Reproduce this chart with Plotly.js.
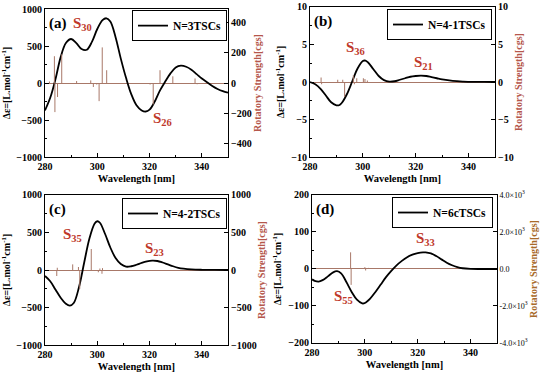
<!DOCTYPE html>
<html>
<head>
<meta charset="utf-8">
<script src="https://cdn.plot.ly/plotly-3.0.1.min.js"></script>
<style>html,body{margin:0;padding:0;background:#fff;}#chart{width:550px;height:376px;}</style>
</head>
<body>
<div id="chart"></div>
<script>
// ---------- data ----------
const seriesNames = ["N=3TSCs", "N=4-1TSCs", "N=4-2TSCs", "N=6cTSCs"];
const panelLabels = ["(a)", "(b)", "(c)", "(d)"];

// (a) CD curve
const wlA = [280,282,284,286,288,290,292,294,296,298,300,302,303.5,305,307,309,311,313,315,317,318.5,320,322,324,326,328,330,332,334,336,338,340,342,344,346,348,350];
const cdA = [-370,-200,50,350,540,595,540,460,450,560,730,850,875,830,620,330,70,-150,-300,-370,-385,-360,-250,-100,20,130,210,235,220,180,120,60,10,-40,-80,-110,-130];
const stickWlA = [281.7,283.6,283.8,284.8,286.4,292.1,297.5,298.5,299.8,300.7,301.9,303.6,320.2,321.4,324.0,328.9,337.4,338.2];
const stickRsA = [10,176,-191,-92,189,13,17,-26,-10,-119,234,84,-10,-141,84,44,30,-8];

// (b)
const wlB = [280,282,284,286,288,290,291,292,294,296,298,300,301,302,304,306,308,310,312,314,316,318,320,322,324,326,328,330,334,338,342,346,350];
const cdB = [0,-0.3,-0.9,-1.8,-2.7,-3.1,-3.1,-2.8,-1.6,0.1,1.8,2.8,2.85,2.6,1.7,0.8,0.25,0.05,0.1,0.3,0.5,0.7,0.8,0.85,0.8,0.65,0.5,0.35,0.15,0.06,0.02,0.01,0];
const stickWlB = [284.2,284.4,290.5,292.4,293.1,296.4,296.8,297.7,300.2,300.8,301.7];
const stickRsB = [0.6,-0.3,0.3,0.3,-2.0,0.9,-0.3,0.5,0.5,0.4,0.2];

// (c)
const wlC = [280,282,284,286,288,289.5,291,293,295,297,299,300,301,303,305,307,309,311,313,315,317,319,321,323,325,327,329,331,333,336,340,345,350];
const cdC = [-80,-150,-260,-370,-450,-475,-440,-230,100,420,620,650,630,480,300,160,80,45,50,70,95,115,125,120,100,75,50,30,18,8,3,1,0];
const stickWlC = [284.5,284.7,290.6,292.8,293.3,297.7,300.4,301.0,301.8,302.0];
const stickRsC = [-80,30,75,40,-250,280,-30,20,-50,25];

// (d)
const wlD = [280,281,282.5,284,286,288,289.5,291,293,295,297,299,300,302,304,306,308,310,312,314,316,318,320,322,323,325,327,329,331,333,335,337,340,345,350];
const cdD = [-28,-32,-34,-30,-20,-9,-6,-12,-35,-62,-83,-93,-92,-80,-62,-42,-22,-5,10,22,32,39,43,45,45,42,35,26,17,10,5,2,0.5,0,0];
const stickWlD = [294.6,294.8,300.0,300.3,301.4];
const stickRsD = [900,-860,100,-80,60];

// state labels: [panel, main, subscript, wavelength, value]
const stateLabels = [
  [0,"S","30",294.5,800],[0,"S","26",325.1,-480],
  [1,"S","36",297.4,4.5],[1,"S","21",323.1,2.5],
  [2,"S","35",290.7,470],[2,"S","23",321.7,280],
  [3,"S","33",322.8,81],[3,"S","55",292.1,-76]
];

const leftTicks = [[-1000,-500,0,500,1000],[-10,-5,0,5,10],[-1000,-500,0,500,1000],[-200,-100,0,100,200]];
const rightTicks = [[-400,-200,0,200,400],[-10,-5,0,5,10],[-1000,-500,0,500,1000],[-4000,-2000,0,2000,4000]];
const rightTickText = [null,null,null,["-4.0×10<sup>3</sup>","-2.0×10<sup>3</sup>","0.0","2.0×10<sup>3</sup>","4.0×10<sup>3</sup>"]];
const leftRanges = [[-1000,1000],[-10,10],[-1000,1000],[-200,200]];
const rightRanges = [[-486,486],[-10,10],[-1000,1000],[-4000,4000]];
const xTicks = [280,300,320,340];

// ---------- build ----------
const curves = [[wlA,cdA],[wlB,cdB],[wlC,cdC],[wlD,cdD]];
const sticks = [[stickWlA,stickRsA],[stickWlB,stickRsB],[stickWlC,stickRsC],[stickWlD,stickRsD]];

const FONT = "Liberation Serif";
const stickColor = "#a87868";
const labelColor = "#c0392b";
const rsTitleColors = ["#b5574b","#b5574b","#b5574b","#a86a2a"];

const domains = [
  {x:[0.0818,0.4145], y:[0.5824,0.976]},
  {x:[0.5636,0.9],    y:[0.5824,0.9814]},
  {x:[0.0818,0.4145], y:[0.0824,0.4814]},
  {x:[0.5673,0.9036], y:[0.0878,0.4814]}
];
const legendPos = [[0.4127,0.973],[0.8945,0.976],[0.4127,0.4734],[0.8964,0.476]];

const traces = [];
const layout = {
  width:550, height:376,
  margin:{l:0,r:0,t:0,b:0},
  paper_bgcolor:"#fff", plot_bgcolor:"#fff",
  font:{family:FONT, size:9, color:"#000", weight:"bold"},
  annotations:[]
};

for (let i=0;i<4;i++){
  const xn = i===0 ? "x" : "x"+(i+1);
  const yl = "y"+(i===0 ? "" : (2*i+1));
  const yr = "y"+(2*i+2);
  const xk = "xaxis"+(i===0?"":(i+1));
  const ylk = "yaxis"+(i===0?"":(2*i+1));
  const yrk = "yaxis"+(2*i+2);
  const lg = i===0 ? "legend" : "legend"+(i+1);

  // stick spectrum
  const sx=[], sy=[];
  sticks[i][0].forEach((w,k)=>{ sx.push(w,w,null); sy.push(0,sticks[i][1][k],null); });
  traces.push({type:"scatter", mode:"lines", x:sx, y:sy, xaxis:xn, yaxis:yr,
    line:{color:stickColor, width:1}, showlegend:false, hoverinfo:"skip", connectgaps:false});
  // CD curve
  traces.push({type:"scatter", mode:"lines", x:curves[i][0], y:curves[i][1], xaxis:xn, yaxis:yl,
    name:seriesNames[i], legend:lg, line:{color:"#000", width:1.8, shape:"spline", smoothing:1}});

  layout[xk] = {domain:domains[i].x, anchor: yl, range:[280,350], tickvals:xTicks,
    ticks:"inside", ticklen:4, tickcolor:"#000", showline:true, linecolor:"#000", linewidth:1, mirror:true,
    showgrid:false, zeroline:false, minor:{dtick:10, ticks:"inside", ticklen:2, tickcolor:"#000"},
    tickfont:{family:FONT, size:10, weight:"bold"},
    title:{text:"Wavelength [nm]", font:{family:FONT, size:10.5, weight:"bold"}, standoff:3}};
  layout[ylk] = {domain:domains[i].y, anchor:xn, range:leftRanges[i], tickvals:leftTicks[i],
    ticks:"inside", ticklen:4, tickcolor:"#000", showline:true, linecolor:"#000", linewidth:1,
    showgrid:false, zeroline:false,
    minor:{dtick:(leftTicks[i][1]-leftTicks[i][0])/2, ticks:"inside", ticklen:2, tickcolor:"#000"},
    tickfont:{family:FONT, size:10, weight:"bold"},
    title:{text:"Δε=[L.mol<sup>-1</sup>cm<sup>-1</sup>]", font:{family:FONT, size:10, weight:"bold"}, standoff:4}};
  const yrObj = {overlaying:yl, anchor:xn, side:"right", range:rightRanges[i], tickvals:rightTicks[i],
    ticks:"inside", ticklen:4, tickcolor:"#000", showline:true, linecolor:"#000", linewidth:1,
    showgrid:false, zeroline:true, zerolinecolor:stickColor, zerolinewidth:1,
    tickfont:{family:FONT, size: i===3 ? 8 : 10, weight: i===3 ? "normal" : "bold"},
    title:{text:"Rotatory Strength[cgs]", font:{family:FONT, size:10, weight:"bold", color:rsTitleColors[i]}, standoff:2}};
  if (rightTickText[i]) yrObj.ticktext = rightTickText[i];
  layout[yrk] = yrObj;

  layout[lg] = {x:legendPos[i][0], y:legendPos[i][1], xanchor:"right", yanchor:"top",
    xref:"paper", yref:"paper", bgcolor:"#fff", bordercolor:"#000", borderwidth:1,
    font:{family:FONT, size:11.5, weight:"bold"}, itemwidth:30, tracegroupgap:0};

  layout.annotations.push({xref:xn+" domain", yref:yl+" domain", x:0.01, y:0.975,
    xanchor:"left", yanchor:"top", showarrow:false, text:panelLabels[i],
    font:{family:FONT, size:15, weight:"bold", color:"#000"}});
}

stateLabels.forEach(s=>{
  const i=s[0];
  const xn = i===0 ? "x" : "x"+(i+1);
  const yl = "y"+(i===0 ? "" : (2*i+1));
  layout.annotations.push({xref:xn, yref:yl, x:s[3], y:s[4], showarrow:false,
    text:s[1]+"<sub>"+s[2]+"</sub>", font:{family:FONT, size:15, weight:"bold", color:labelColor}});
});

Plotly.newPlot("chart", traces, layout, {staticPlot:true});
</script>
</body>
</html>
